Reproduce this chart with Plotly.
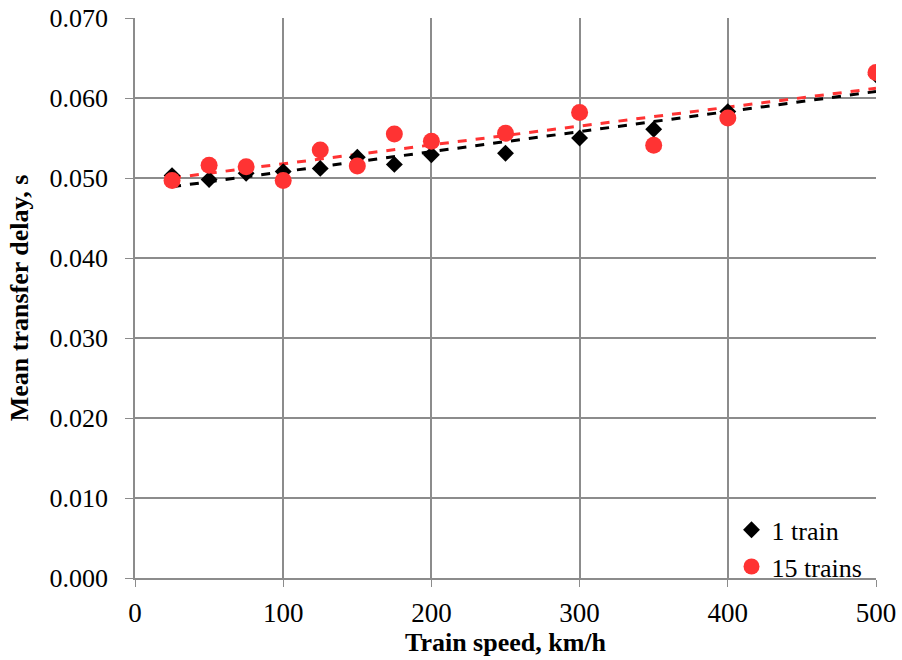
import numpy as np
import plotly.graph_objects as go

speed = [25, 50, 75, 100, 125, 150, 175, 200, 250, 300, 350, 400, 500]
one_train = [0.0503, 0.0498, 0.0506, 0.0508, 0.0512, 0.0526, 0.0517, 0.0529, 0.0531, 0.0550, 0.0561, 0.0583, 0.0629]
fifteen_trains = [0.0497, 0.0516, 0.0514, 0.0497, 0.0535, 0.0515, 0.0555, 0.0546, 0.0556, 0.0582, 0.0541, 0.0575, 0.0632]
y_ticks = [0.000, 0.010, 0.020, 0.030, 0.040, 0.050, 0.060, 0.070]
x_ticks = [0, 100, 200, 300, 400, 500]

FONT = "Liberation Serif"
RED = "#FF3333"
GRID = "#8c8c8c"

fig = go.Figure()

def trend(x, y):
    k, b = np.polyfit(x, y, 1)
    xs = np.array([min(x), max(x)])
    return xs, k * xs + b

tx, ty = trend(speed, one_train)
fig.add_trace(go.Scatter(x=tx, y=ty, mode="lines", showlegend=False,
                         line=dict(color="black", width=3, dash="dash")))
tx2, ty2 = trend(speed, fifteen_trains)
fig.add_trace(go.Scatter(x=tx2, y=ty2, mode="lines", showlegend=False,
                         line=dict(color=RED, width=3, dash="dash")))

fig.add_trace(go.Scatter(x=speed, y=one_train, mode="markers", name="1 train",
                         marker=dict(symbol="diamond", color="black", size=13)))
fig.add_trace(go.Scatter(x=speed, y=fifteen_trains, mode="markers", name="15 trains",
                         marker=dict(symbol="circle", color=RED, size=17)))

fig.update_layout(
    width=902, height=660,
    margin=dict(l=135, r=26, t=18, b=82),
    paper_bgcolor="white", plot_bgcolor="white",
    font=dict(family=FONT, size=26, color="black"),
    legend=dict(x=0.805, y=-0.022, xanchor="left", yanchor="bottom",
                bgcolor="rgba(0,0,0,0)", font=dict(family=FONT, size=26),
                tracegroupgap=0, itemwidth=30),
    showlegend=True,
)
fig.update_xaxes(range=[0, 500], tickmode="array", tickvals=x_ticks,
                 showgrid=True, gridcolor=GRID, gridwidth=1.5,
                 showline=True, linecolor=GRID, linewidth=1.5,
                 ticks="outside", ticklen=7, tickcolor=GRID,
                 zeroline=False, ticklabelstandoff=3, ticklabeloverflow="allow",
                 automargin=False,
                 title=dict(text="<b>Train speed, km/h</b>", font=dict(family=FONT, size=26), standoff=0),
                 tickfont=dict(family=FONT, size=27))
fig.update_yaxes(range=[0, 0.07], tickmode="array", tickvals=y_ticks,
                 ticktext=[f"{v:.3f}" for v in y_ticks],
                 showgrid=True, gridcolor=GRID, gridwidth=1.5,
                 showline=True, linecolor=GRID, linewidth=1.5,
                 ticks="outside", ticklen=8, tickcolor=GRID,
                 zeroline=False, ticklabeloverflow="allow", ticklabelstandoff=12,
                 automargin=False,
                 title=dict(text="<b>Mean transfer delay, s</b>", font=dict(family=FONT, size=26), standoff=13),
                 tickfont=dict(family=FONT, size=26))

fig.write_html("out.html", config={"displayModeBar": False},
               post_script="document.body.style.margin='0';")
